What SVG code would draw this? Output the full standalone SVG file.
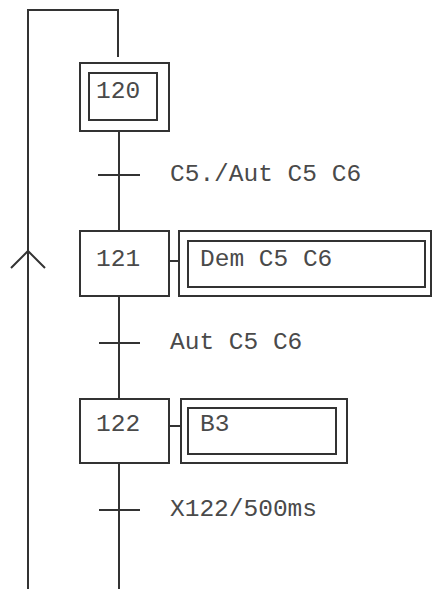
<svg xmlns="http://www.w3.org/2000/svg" width="432" height="589" viewBox="0 0 432 589">
<style>
.ln{fill:none;stroke:#333;stroke-width:2}
.tx{font-family:"Liberation Mono","Courier New",monospace;font-size:24.5px;fill:#4a4a4a}
</style>
<rect width="432" height="589" fill="#fff"/>
<g id="connectors">
<path class="ln" d="M28 589 V10 H118 V57"/>
<path class="ln" d="M11 268 L28 251 L45 268"/>
<path class="ln" d="M119 131 V231"/>
<path class="ln" d="M119 296 V399"/>
<path class="ln" d="M119 463 V589"/>
<path class="ln" d="M169 261 H179"/>
<path class="ln" d="M169 426 H181"/>
</g>
<g id="step120">
<rect class="ln" x="80" y="63" width="89" height="68"/>
<rect class="ln" x="89" y="73" width="68" height="47"/>
<text class="tx" x="96" y="98">120</text>
</g>
<g id="t1">
<path class="ln" d="M98 175 H140"/>
<text class="tx" x="170" y="181">C5./Aut C5 C6</text>
</g>
<g id="step121">
<rect class="ln" x="80" y="231" width="89" height="65"/>
<text class="tx" x="96" y="266">121</text>
</g>
<g id="action121">
<rect class="ln" x="179" y="231" width="252" height="65"/>
<rect class="ln" x="188" y="241" width="237" height="46"/>
<text class="tx" x="200" y="266">Dem C5 C6</text>
</g>
<g id="t2">
<path class="ln" d="M99 343 H140"/>
<text class="tx" x="170" y="349">Aut C5 C6</text>
</g>
<g id="step122">
<rect class="ln" x="80" y="399" width="89" height="64"/>
<text class="tx" x="96" y="431">122</text>
</g>
<g id="action122">
<rect class="ln" x="181" y="399" width="166" height="64"/>
<rect class="ln" x="188" y="408" width="148" height="46"/>
<text class="tx" x="200" y="431">B3</text>
</g>
<g id="t3">
<path class="ln" d="M99 510 H140"/>
<text class="tx" x="170" y="516">X122/500ms</text>
</g>
</svg>
